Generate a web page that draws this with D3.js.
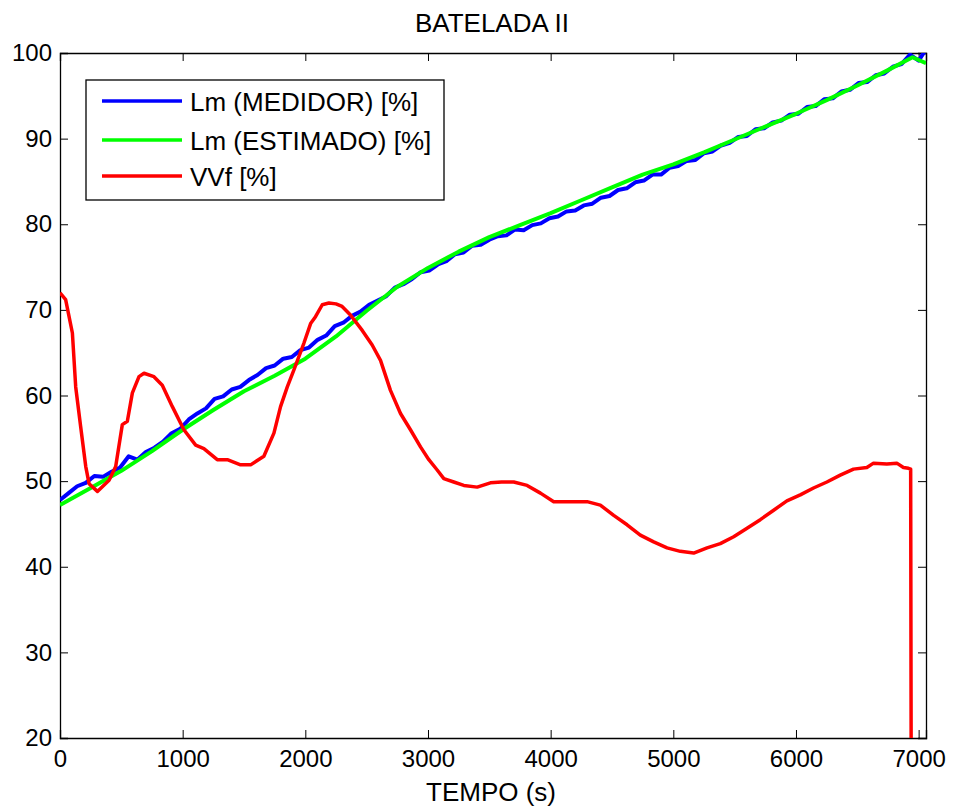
<!DOCTYPE html>
<html>
<head>
<meta charset="utf-8">
<script src="https://cdnjs.cloudflare.com/ajax/libs/d3/7.8.5/d3.min.js"></script>
<style>
    body { margin: 0; background: #fff; }
    text { font-family: "Liberation Sans", Arial, sans-serif; fill: #000; }
</style>
</head>
<body>
<div id="svg-container"></div>
<script>

// x ticks and y ticks
var xTicks = [0, 1000, 2000, 3000, 4000, 5000, 6000, 7000];
var yTicks = [20, 30, 40, 50, 60, 70, 80, 90, 100];

var seriesNames = ["Lm (MEDIDOR) [%]", "Lm (ESTIMADO) [%]", "VVf [%]"];
var seriesColors = ["#0000ff", "#00ff00", "#ff0000"];

// Lm (MEDIDOR) - sampled every 70 s, last one at 7050
var tMedidor = d3.range(0, 7001, 70).concat([7050]);
var vMedidor = [
    47.8, 48.6, 49.4, 49.8, 50.6, 50.5, 51.1, 51.6, 52.9, 52.5,
    53.4, 53.9, 54.6, 55.6, 56.1, 57.2, 57.9, 58.5, 59.6, 59.9,
    60.7, 61.0, 61.8, 62.4, 63.2, 63.5, 64.3, 64.5, 65.3, 65.6,
    66.5, 67.0, 68.1, 68.5, 69.3, 69.8, 70.6, 71.1, 71.6, 72.6,
    73.0, 73.6, 74.4, 74.6, 75.3, 75.7, 76.5, 76.7, 77.5, 77.6,
    78.2, 78.6, 78.7, 79.4, 79.3, 79.9, 80.1, 80.7, 80.9, 81.5,
    81.6, 82.2, 82.4, 83.1, 83.3, 84.0, 84.2, 84.9, 85.1, 85.8,
    85.8, 86.6, 86.8, 87.4, 87.5, 88.3, 88.5, 89.2, 89.5, 90.2,
    90.3, 91.1, 91.2, 91.9, 92.1, 92.8, 92.9, 93.7, 93.8, 94.6,
    94.7, 95.5, 95.7, 96.5, 96.6, 97.4, 97.6, 98.4, 98.7, 99.8,
    99.1, 100.2
];

// Lm (ESTIMADO)
var tEstimado = [0, 250, 500, 750, 1000, 1250, 1500, 1750, 2000, 2250, 2500, 2750, 3000, 3250, 3500,
    3750, 4000, 4250, 4500, 4750, 5000, 5250, 5500, 5750, 6000, 6250, 6500, 6750, 6950, 7060];
var vEstimado = [47.2, 49.2, 51.2, 53.5, 56.0, 58.3, 60.5, 62.3, 64.3, 66.9, 69.9, 72.7, 74.9, 76.8, 78.5,
    79.9, 81.3, 82.8, 84.3, 85.8, 87.0, 88.4, 89.9, 91.4, 92.9, 94.5, 96.2, 98.0, 99.5, 98.8];

// VVf
var tVVf = [0, 46, 101, 128, 168, 210, 237, 305, 400, 454,
    508, 549, 590, 644, 685, 766, 834, 916, 1010, 1106,
    1173, 1282, 1364, 1472, 1554, 1662, 1744, 1798, 1853, 1907,
    1988, 2043, 2083, 2138, 2192, 2250, 2300, 2368, 2464, 2545,
    2613, 2694, 2776, 2857, 2939, 3007, 3075, 3129, 3210, 3292,
    3401, 3509, 3600, 3699, 3808, 3917, 4025, 4134, 4297, 4405,
    4514, 4623, 4731, 4840, 4949, 5057, 5166, 5275, 5383, 5492,
    5601, 5709, 5818, 5926, 6035, 6143, 6252, 6361, 6469, 6578,
    6632, 6741, 6822, 6876, 6917, 6935, 6940];
var vVVf = [72.0, 71.2, 67.3, 61.0, 56.4, 51.7, 49.7, 48.8, 50.1, 51.7,
    56.6, 57.0, 60.3, 62.2, 62.6, 62.2, 61.2, 58.7, 56.0, 54.2,
    53.8, 52.5, 52.5, 51.9, 51.9, 52.9, 55.6, 58.7, 61.0, 63.0,
    66.1, 68.4, 69.2, 70.6, 70.8, 70.7, 70.4, 69.4, 67.6, 65.9,
    64.1, 60.6, 57.9, 56.0, 54.0, 52.5, 51.3, 50.3, 49.9, 49.5,
    49.3, 49.8, 49.9, 49.9, 49.5, 48.6, 47.6, 47.6, 47.6, 47.2,
    46.0, 44.9, 43.7, 42.9, 42.2, 41.8, 41.6, 42.2, 42.7, 43.5,
    44.5, 45.5, 46.6, 47.7, 48.4, 49.2, 49.9, 50.7, 51.4, 51.6,
    52.1, 52.0, 52.1, 51.6, 51.5, 51.4, 10];

var width = 954;
var height = 810;
// plot box edges (don't call it "top", that's window.top)
var plotLeft = 60, plotTop = 53, plotRight = 926, plotBottom = 738;

var x = d3.scaleLinear().domain([0, 7060]).range([plotLeft, plotRight]);
var y = d3.scaleLinear().domain([20, 100]).range([plotBottom, plotTop]);

var svg = d3.select("#svg-container").append("svg")
    .attr("width", width)
    .attr("height", height);

svg.append("rect")
    .attr("width", width)
    .attr("height", height)
    .attr("fill", "#fff");

svg.append("clipPath").attr("id", "plot-clip")
    .append("rect")
    .attr("x", plotLeft)
    .attr("y", plotTop)
    .attr("width", plotRight - plotLeft)
    .attr("height", plotBottom - plotTop);

// axes - ticks point inward, on all four sides
svg.append("g")
    .attr("transform", "translate(0," + plotBottom + ")")
    .call(d3.axisBottom(x).tickValues(xTicks).tickSize(-8).tickPadding(12).tickFormat(d3.format("d")));
svg.append("g")
    .attr("transform", "translate(0," + plotTop + ")")
    .call(d3.axisTop(x).tickValues(xTicks).tickSize(-8).tickFormat(""));
svg.append("g")
    .attr("transform", "translate(" + plotLeft + ",0)")
    .call(d3.axisLeft(y).tickValues(yTicks).tickSize(-8).tickPadding(8));
svg.append("g")
    .attr("transform", "translate(" + plotRight + ",0)")
    .call(d3.axisRight(y).tickValues(yTicks).tickSize(-8).tickFormat(""));

svg.selectAll(".domain").attr("stroke", "#000").attr("stroke-width", 1.3);
svg.selectAll(".tick line").attr("stroke", "#000");
svg.selectAll(".tick text")
    .attr("font-size", "24px")
    .attr("font-family", "'Liberation Sans', Arial, sans-serif")
    .attr("fill", "#000");

// lines
var plot = svg.append("g").attr("clip-path", "url(#plot-clip)");

var series = [
    { t: tMedidor, v: vMedidor, width: 4 },
    { t: tEstimado, v: vEstimado, width: 4 },
    { t: tVVf, v: vVVf, width: 3.5 }
];

var line = d3.line()
    .x(function(d) { return x(d[0]); })
    .y(function(d) { return y(d[1]); });

series.forEach(function(s, i) {
    var pts = s.t.map(function(t, j) { return [t, s.v[j]]; });
    plot.append("path")
        .datum(pts)
        .attr("d", line)
        .attr("fill", "none")
        .attr("stroke", seriesColors[i])
        .attr("stroke-width", s.width)
        .attr("stroke-linejoin", "round");
});

// title and x label
svg.append("text")
    .attr("x", 492)
    .attr("y", 32)
    .attr("text-anchor", "middle")
    .attr("font-size", "26px")
    .text("BATELADA II");

svg.append("text")
    .attr("x", 491)
    .attr("y", 801)
    .attr("text-anchor", "middle")
    .attr("font-size", "26px")
    .text("TEMPO (s)");

// legend
var legend = svg.append("g");
legend.append("rect")
    .attr("x", 86)
    .attr("y", 80)
    .attr("width", 358)
    .attr("height", 120)
    .attr("fill", "#fff")
    .attr("stroke", "#000")
    .attr("stroke-width", 1.3);

var legendY = [101, 140, 176];
seriesNames.forEach(function(name, i) {
    legend.append("line")
        .attr("x1", 102)
        .attr("x2", 182)
        .attr("y1", legendY[i])
        .attr("y2", legendY[i])
        .attr("stroke", seriesColors[i])
        .attr("stroke-width", 3.5);
    legend.append("text")
        .attr("x", 190)
        .attr("y", legendY[i] + 10)
        .attr("font-size", "26px")
        .text(name);
});

</script>
</body>
</html>
